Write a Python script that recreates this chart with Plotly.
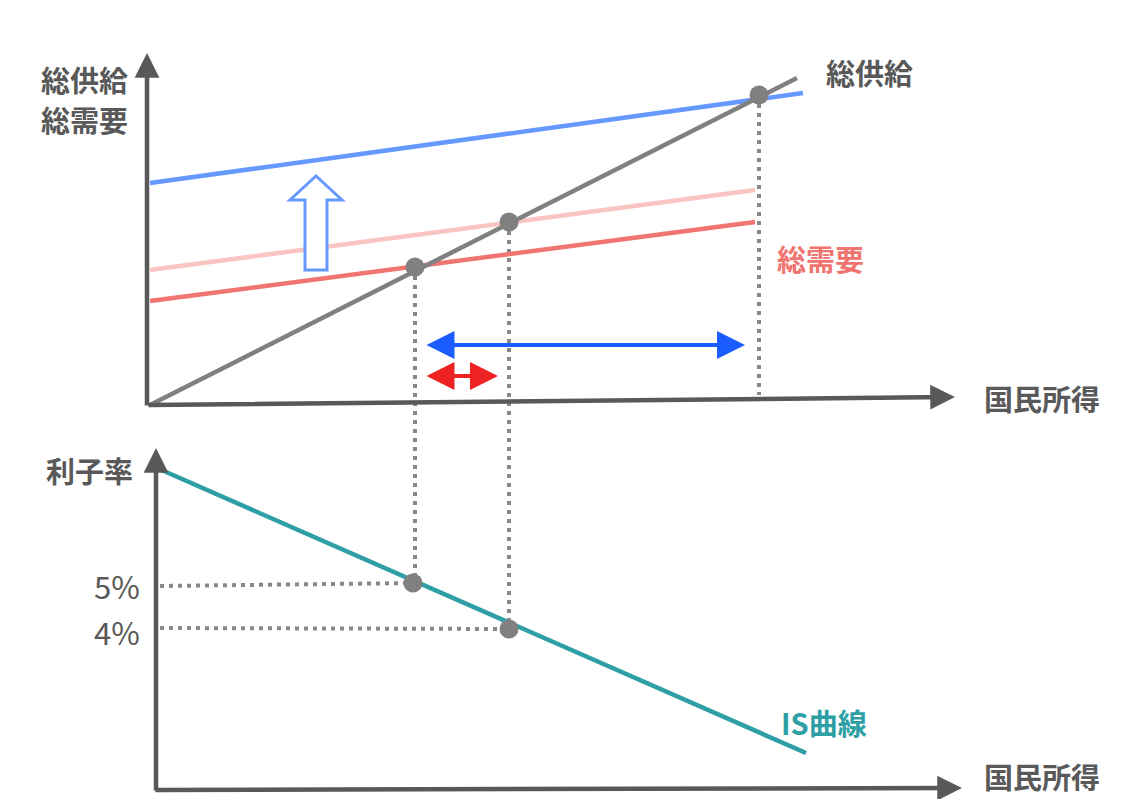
import plotly.graph_objects as go

# =========================
# DATA (diagram coordinates, y grows downward like the page)
# =========================
# upper panel: aggregate supply / aggregate demand
as_x = [150, 797]
as_y = [405, 78]
ad_new_x = [150, 803]
ad_new_y = [183, 93]
ad_mid_x = [150, 755]
ad_mid_y = [270, 190]
ad_old_x = [150, 755]
ad_old_y = [301, 222]

eq_x = [415, 509, 759]
eq_y = [267, 222, 95]

# lower panel: IS curve
is_x = [157, 806]
is_y = [468, 753]
rate_x = [413, 509]
rate_y = [583, 629]
rate_labels = ["5%", "4%"]

DARK = "#595959"
DOT = "#888888"
FONT = "Noto Sans CJK JP"

# page has an 8px body margin, so the figure is shifted by that much
PAD = 8
W, H = 1146, 807

fig = go.Figure()

# dotted guide lines
guides = [
    ([eq_x[0], eq_x[0]], [eq_y[0], rate_y[0]]),
    ([eq_x[1], eq_x[1]], [eq_y[1], rate_y[1]]),
    ([eq_x[2], eq_x[2]], [eq_y[2], 395]),
    ([160, rate_x[0]], [586, rate_y[0]]),
    ([160, rate_x[1]], [628, rate_y[1]]),
]
for gx, gy in guides:
    fig.add_trace(go.Scatter(x=gx, y=gy, mode="lines",
                             line=dict(color=DOT, width=4, dash="4px,5px"),
                             hoverinfo="skip"))

# demand / supply lines
for lx, ly, col in [(ad_mid_x, ad_mid_y, "#f9c4c1"),
                    (ad_old_x, ad_old_y, "#f07470"),
                    (ad_new_x, ad_new_y, "#6699ff"),
                    (as_x, as_y, "#808080"),
                    (is_x, is_y, "#2e9fa4")]:
    fig.add_trace(go.Scatter(x=lx, y=ly, mode="lines",
                             line=dict(color=col, width=4.5),
                             hoverinfo="skip"))

# equilibrium points
fig.add_trace(go.Scatter(x=eq_x + rate_x, y=eq_y + rate_y, mode="markers",
                         marker=dict(color="#808080", size=19)))

# =========================
# AXES AS ARROWS
# =========================
axis_arrows = [
    (147, 53, 147, 407),   # top y
    (955, 397, 147, 405),  # top x
    (156, 448, 156, 792),  # bottom y
    (962, 788, 154, 790),  # bottom x
]
for x, y, ax, ay in axis_arrows:
    fig.add_annotation(x=x, y=y, ax=ax, ay=ay, xref="x", yref="y",
                       axref="x", ayref="y", text="", showarrow=True,
                       arrowhead=2, arrowsize=1.1, arrowwidth=4.5,
                       arrowcolor=DARK)

# horizontal double arrows
for x0, x1, y, col in [(425, 745, 345, "#1a5cff"), (425, 498, 376, "#ee2222")]:
    fig.add_annotation(x=x1, y=y, ax=x0, ay=y, xref="x", yref="y",
                       axref="x", ayref="y", text="", showarrow=True,
                       arrowhead=2, startarrowhead=2, arrowside="end+start",
                       arrowsize=1.4, startarrowsize=1.4, arrowwidth=4,
                       arrowcolor=col)

# hollow up arrow
fig.add_shape(type="path",
              path="M 305 270 L 305 200 L 290 200 L 316 176 L 342 200 L 327 200 L 327 270 Z",
              line=dict(color="#6699ff", width=3), fillcolor="white")

# =========================
# LABELS
# =========================
labels = [
    (84, 79, "総供給", DARK),
    (84, 119, "総需要", DARK),
    (869, 72, "総供給", DARK),
    (820, 258, "総需要", "#f07470"),
    (1042, 398, "国民所得", DARK),
    (89, 470, "利子率", DARK),
    (824, 722, "IS曲線", "#2e9fa4"),
    (1042, 776, "国民所得", DARK),
]
for x, y, t, col in labels:
    fig.add_annotation(x=x, y=y, text=f"<b>{t}</b>", showarrow=False,
                       font=dict(family=FONT, size=29, color=col))

for y, t in zip([585, 631], rate_labels):
    fig.add_annotation(x=117, y=y, text=t, showarrow=False,
                       font=dict(family=FONT, size=31, color=DARK))

fig.update_layout(
    width=W - 2 * PAD, height=H - 2 * PAD,
    margin=dict(l=0, r=0, t=0, b=0),
    paper_bgcolor="white", plot_bgcolor="white",
    showlegend=False,
    xaxis=dict(range=[PAD, W - PAD], visible=False, fixedrange=True),
    yaxis=dict(range=[H - PAD, PAD], visible=False, fixedrange=True),
)

fig.write_html("out.html")
